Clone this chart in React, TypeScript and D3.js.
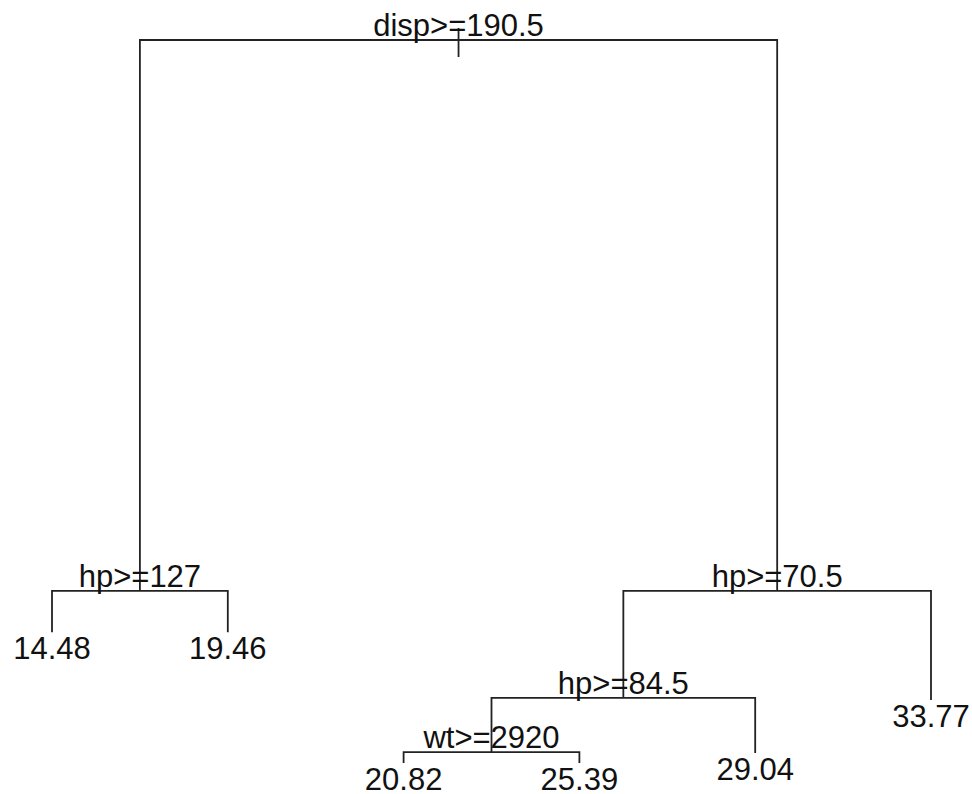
import { useRef, useEffect } from 'react';
import * as d3 from 'd3';

// rpart node ids (children of n are 2n and 2n+1)
const nodeIds = [1, 2, 3, 4, 5, 6, 7, 12, 13, 24, 25];
// text shown at each node: split rule for internal nodes, fitted mean for leaves
const nodeLabels = [
  'disp>=190.5', 'hp>=127', 'hp>=70.5', '14.48', '19.46',
  'hp>=84.5', '33.77', 'wt>=2920', '29.04', '20.82', '25.39',
];
// vertical position of each node (deviance-based depth, 0 = root, 100 = deepest)
const nodeDepth = [0, 76.2, 76.2, 81.9, 81.9, 91.0, 91.3, 98.5, 98.6, 100, 100];

type TNode = { id: number; label: string; depth: number; x?: number; kids: TNode[] };

const App = () => {
  const svgRef = useRef<SVGSVGElement>(null);

  useEffect(() => {
    if (!svgRef.current) return;
    const width = 972;
    const height = 794;
    const fontSize = 31;
    const lineColor = '#222';

    const svg = d3.select(svgRef.current).attr('width', width).attr('height', height);
    svg.selectAll('*').remove();

    const byId = new Map<number, TNode>();
    nodeIds.forEach((id, i) => byId.set(id, { id, label: nodeLabels[i], depth: nodeDepth[i], kids: [] }));
    nodeIds.forEach(id => {
      const l = byId.get(2 * id);
      const r = byId.get(2 * id + 1);
      if (l && r) byId.get(id)!.kids = [l, r];
    });
    const root = byId.get(1)!;

    // leaves in left-to-right order
    const leaves: TNode[] = [];
    const walk = (n: TNode) => {
      if (!n.kids.length) leaves.push(n);
      else n.kids.forEach(walk);
    };
    walk(root);

    const x = d3.scaleLinear().domain([0, leaves.length - 1]).range([52, 931]);
    const y = d3.scaleLinear().domain([0, 100]).range([40, 763]);

    leaves.forEach((n, i) => { n.x = x(i); });
    const place = (n: TNode): number => {
      if (!n.kids.length) return n.x!;
      n.x = (place(n.kids[0]) + place(n.kids[1])) / 2;
      return n.x;
    };
    place(root);

    const g = svg.append('g');
    const lines = g.append('g').attr('stroke', lineColor).attr('stroke-width', 1.8).attr('fill', 'none');
    const text = g.append('g')
      .attr('font-family', 'Arial, "Liberation Sans", sans-serif')
      .attr('font-size', fontSize)
      .attr('fill', '#111')
      .attr('text-anchor', 'middle');

    // small stub under the root
    lines.append('line')
      .attr('x1', root.x!).attr('x2', root.x!)
      .attr('y1', y(root.depth) - 12).attr('y2', y(root.depth) + 17);

    const draw = (n: TNode) => {
      if (!n.kids.length) {
        text.append('text').attr('x', n.x!).attr('y', y(n.depth) + 27).text(n.label);
        return;
      }
      const yy = y(n.depth);
      const [l, r] = n.kids;
      lines.append('path')
        .attr('d', `M${l.x},${y(l.depth)}V${yy}H${r.x}V${y(r.depth)}`);
      text.append('text').attr('x', n.x!).attr('y', yy - 4).text(n.label);
      n.kids.forEach(draw);
    };
    draw(root);
  }, []);

  return (
    <div style={{ position: 'absolute', left: 0, top: 0, background: '#fff' }}>
      <svg ref={svgRef} style={{ display: 'block' }} />
    </div>
  );
};

export default App;
